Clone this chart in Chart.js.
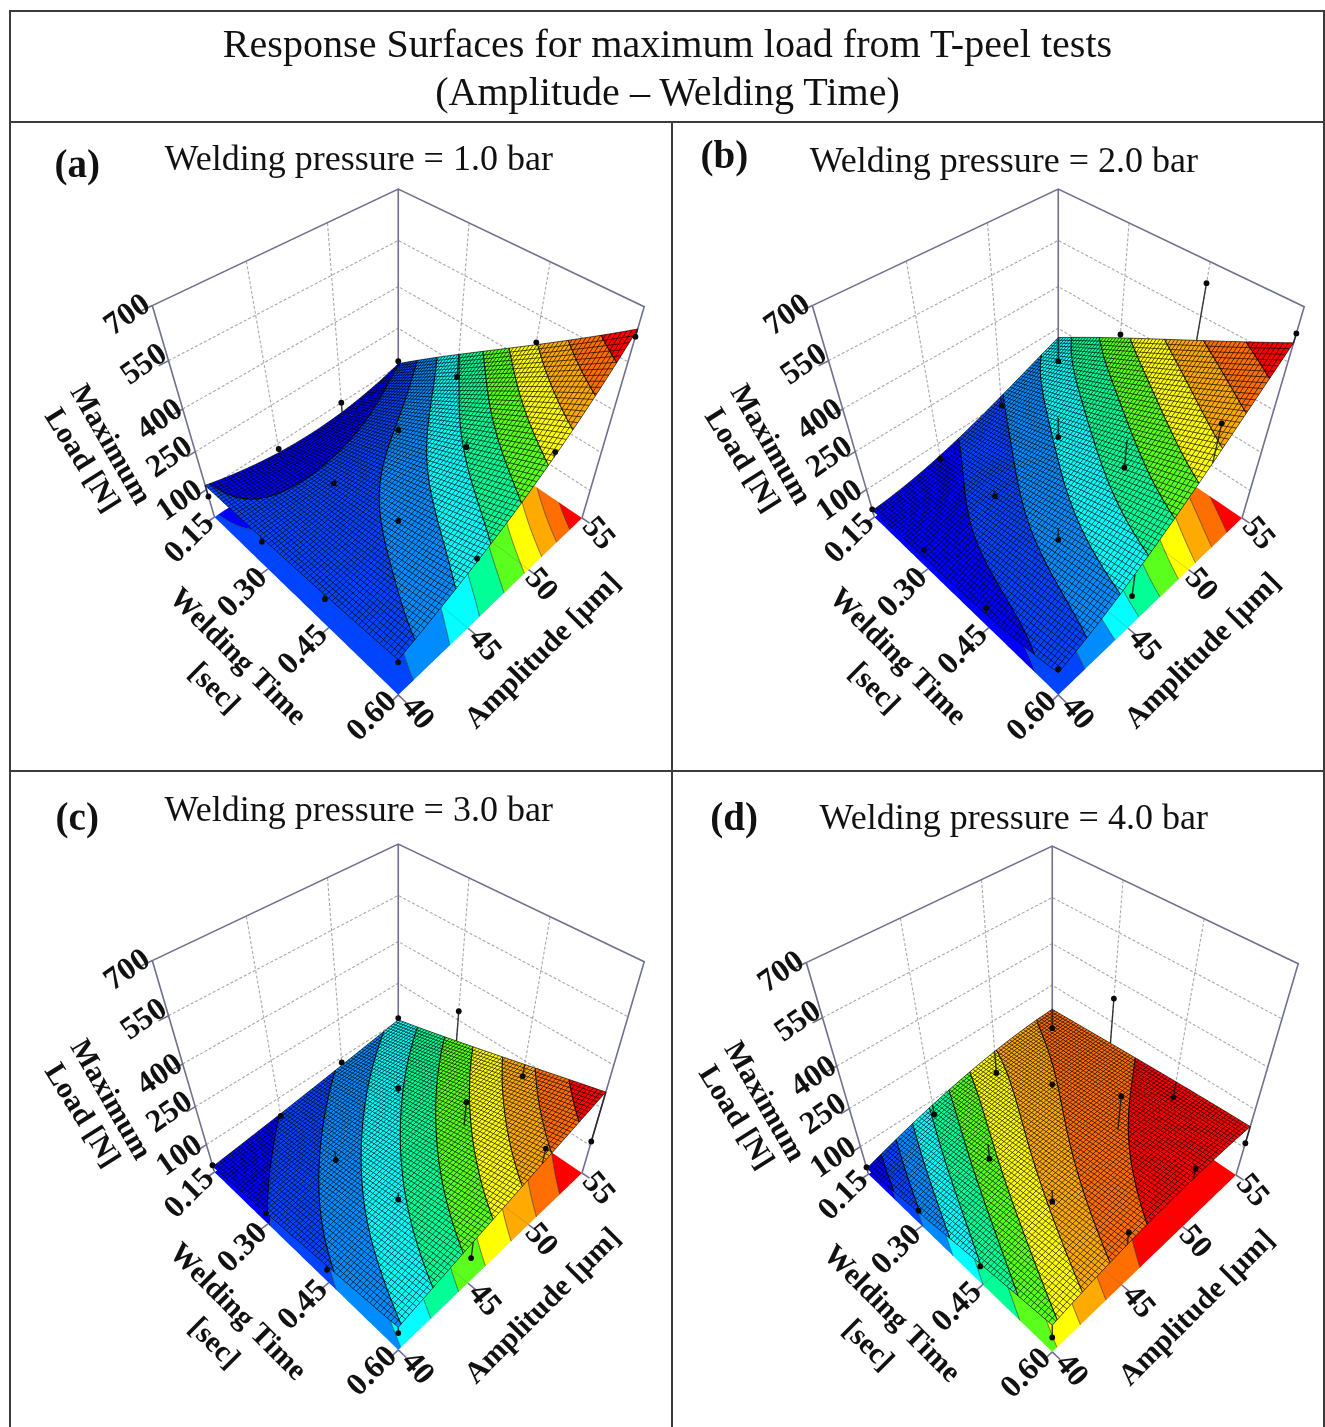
<!DOCTYPE html>
<html><head><meta charset="utf-8">
<script src="https://cdn.jsdelivr.net/npm/chart.js@4"></script>
<style>
html,body{margin:0;padding:0;background:#fff;width:1325px;height:1427px;overflow:hidden}
#page{position:relative;width:1325px;height:1427px;font-family:"Liberation Serif",serif;color:#111;filter:blur(0.45px)}
.rule{position:absolute;background:#3c3c3c}
.head{position:absolute;left:10px;width:1315px;text-align:center;font-size:40.1px;line-height:48px;white-space:nowrap}
canvas{position:absolute}
</style></head><body>
<div id="page">
<div class="rule" style="left:9px;top:10px;width:1316px;height:2px"></div>
<div class="rule" style="left:9px;top:10px;width:2px;height:1417px"></div>
<div class="rule" style="left:1323px;top:10px;width:2px;height:1417px"></div>
<div class="rule" style="left:9px;top:121px;width:1316px;height:2px"></div>
<div class="rule" style="left:671px;top:121px;width:2px;height:1306px"></div>
<div class="rule" style="left:9px;top:770px;width:1316px;height:2px"></div>
<div class="head" style="top:20px">Response Surfaces for maximum load from T-peel tests</div>
<div class="head" style="top:68px">(Amplitude – Welding Time)</div>
<canvas id="pa" width="654" height="647" style="left:11px;top:123px"></canvas>
<canvas id="pb" width="654" height="647" style="left:671px;top:123px"></canvas>
<canvas id="pc" width="654" height="647" style="left:11px;top:778px"></canvas>
<canvas id="pd" width="654" height="647" style="left:665px;top:780px"></canvas>
</div>
<script>
// ---- axis ticks
const timeTicks = [0.15, 0.30, 0.45, 0.60];
const ampTicks = [40, 45, 50, 55];
const loadTicks = [100, 250, 400, 550, 700];
const gridTimes = [0.15, 0.225, 0.30, 0.375, 0.45, 0.525, 0.60];
const gridAmps = [40, 42.5, 45, 47.5, 50, 52.5, 55];
// ---- predicted surfaces: rows = welding time, columns = amplitude
const surfaceA = [
 [118, 85, 62, 55, 62, 82, 110],
 [118,108,103,103,112,135,199],
 [122,125,135,145,178,240,288],
 [127,140,160,190,233,300,375],
 [133,152,185,233,295,370,460],
 [140,175,222,289,360,445,550],
 [150,205,263,335,412,528,640]];
const surfaceB = [
 [10, 25, 48, 84,122,175,211],
 [18, 45, 74,112,157,225,284],
 [25, 62,102,142,200,272,344],
 [33, 79,132,180,250,330,408],
 [43, 97,167,230,285,390,472],
 [58,118,197,270,330,445,539],
 [93,141,221,304,400,503,603]];
const surfaceC = [
 [ 5, 20, 35, 51, 68, 88,104],
 [20, 38, 55, 75, 93,115,136],
 [34, 52, 76,100,122,147,168],
 [48, 68,100,122,150,180,202],
 [62, 92,126,146,175,210,237],
 [76,110,146,176,213,243,271],
 [92,131,165,200,237,272,307]];
const surfaceD = [
 [  6, 45, 83,112,134,148,156],
 [ 24, 64, 99,124,141,155,162],
 [ 41, 80,115,136,150,162,168],
 [ 60, 98,126,146,160,168,172],
 [ 77,118,138,156,171,176,178],
 [ 97,128,151,167,180,182,183],
 [112,140,163,178,186,188,185]];
// ---- contour levels (colour band edges) of each panel
const levelsA = [113.5,172,230.5,289,347.5,406,464.5,523,581.5];
const levelsB = [69,129,188,247,307,366,425,485,544];
const levelsC = [35,65,95,126,156,186,216,247,277];
const levelsD = [24,42,61,79,98,116,135,153,172];
// ---- measured design points: rows = timeTicks, columns = ampTicks
const measuredA = [[71,78,100,120],[101,127,156,204],[112,188,269,469],[139,279,436,621]];
const measuredB = [[15,35,88,120],[67,73,128,360],[73,111,191,643],[107,127,525,630]];
const measuredC = [[11,27,80,112],[28,35,144,282],[41,90,269,192],[65,96,294,117]];
const measuredD = [[11,42,44,78],[50,50,167,335],[66,90,298,116],[53,213,225,118]];
const titles = ["Welding pressure = 1.0 bar","Welding pressure = 2.0 bar","Welding pressure = 3.0 bar","Welding pressure = 4.0 bar"];
const letters = ["(a)","(b)","(c)","(d)"];
const bandColors = ["rgb(0,0,255)","rgb(0,68,255)","rgb(0,140,255)","rgb(0,255,255)","rgb(0,255,150)","rgb(90,255,30)","rgb(255,255,0)","rgb(255,170,0)","rgb(255,110,0)","rgb(255,0,0)"];

// ---- camera (view coordinates are those of panel a)
const Z0=-20, ZR=720;
function project(u,v,z){
  const h=(z-Z0)/ZR;
  const W=1.216-0.216*u+0.216*v-0.3076*h;
  return {x:399+226.2*(u+v-1)/W, y:(629.9+68.1*u-67*v-353.9*h)/W};
}
const uOf=t=>(t-0.15)/0.45, vOf=a=>(a-40)/15;
// smooth the 7x7 table of read values with a low-order least-squares surface for drawing
const basis=[x=>1,x=>x,x=>x*x-4,x=>(x*x*x-7*x)/6], norms=[7,28,84,6];
function makeSurface(T){
  const c=[];
  for(let p=0;p<4;p++){c[p]=[];for(let q=0;q<4;q++){let s=0;
    for(let i=0;i<7;i++)for(let j=0;j<7;j++)s+=T[i][j]*basis[p](i-3)*basis[q](j-3);
    c[p][q]=s/(norms[p]*norms[q]);}}
  return (u,v)=>{const a=6*u-3,b=6*v-3;let s=0;
    for(let p=0;p<4;p++)for(let q=0;q<4;q++)s+=c[p][q]*basis[p](a)*basis[q](b);
    return s;};
}
function bandOf(z,L){let b=0;while(b<L.length&&z>=L[b])b++;return b;}
function clipTri(poly,lo,hi){
  const cut=(P,lim,keepAbove)=>{
    const out=[];
    for(let i=0;i<P.length;i++){
      const a=P[i],b=P[(i+1)%P.length];
      const ia=keepAbove?a.z>=lim:a.z<=lim, ib=keepAbove?b.z>=lim:b.z<=lim;
      if(ia)out.push(a);
      if(ia!==ib){const s=(lim-a.z)/(b.z-a.z);out.push({u:a.u+s*(b.u-a.u),v:a.v+s*(b.v-a.v),z:lim});}
    }
    return out;
  };
  let P=poly;
  if(lo!==null)P=cut(P,lo,true);
  if(P.length&&hi!==null)P=cut(P,hi,false);
  return P;
}
const N=64;
function drawField(ctx,chart,F,L,onFloor){
  const sx=chart.scales.x, sy=chart.scales.y;
  const pt=(u,v,z)=>{const p=project(u,v,onFloor?Z0:z);return [sx.getPixelForValue(p.x),sy.getPixelForValue(p.y)];};
  const paths=bandColors.map(()=>new Path2D());
  const contour=new Path2D();
  const add=(P,b)=>{
    P.forEach((q,i)=>{const c=pt(q.u,q.v,q.z);i?paths[b].lineTo(c[0],c[1]):paths[b].moveTo(c[0],c[1]);});
    paths[b].closePath();
  };
  const V=[];
  for(let i=0;i<=N;i++){V[i]=[];for(let j=0;j<=N;j++){const u=i/N,v=j/N;V[i][j]={u,v,z:F(u,v)};}}
  const tri=(A,B,C)=>{
    const zs=[A.z,B.z,C.z], b0=bandOf(Math.min(...zs),L), b1=bandOf(Math.max(...zs),L);
    for(let b=b0;b<=b1;b++){
      const P=b0===b1?[A,B,C]:clipTri([A,B,C],b>0?L[b-1]:null,b<L.length?L[b]:null);
      if(P.length>=3)add(P,b);
    }
    for(let b=b0;b<b1;b++){
      const l=L[b],E=[];
      [[A,B],[B,C],[C,A]].forEach(([a,c])=>{if((a.z-l)*(c.z-l)<0){const s=(l-a.z)/(c.z-a.z);E.push({u:a.u+s*(c.u-a.u),v:a.v+s*(c.v-a.v)});}});
      if(E.length===2){const p=pt(E[0].u,E[0].v,l),q=pt(E[1].u,E[1].v,l);contour.moveTo(p[0],p[1]);contour.lineTo(q[0],q[1]);}
    }
  };
  for(let i=0;i<N;i++)for(let j=0;j<N;j++){tri(V[i][j],V[i+1][j],V[i+1][j+1]);tri(V[i][j],V[i+1][j+1],V[i][j+1]);}
  paths.forEach((p,b)=>{ctx.fillStyle=bandColors[b];ctx.fill(p);});
  if(!onFloor){
    ctx.strokeStyle="rgba(0,0,0,0.7)";ctx.lineWidth=0.95;ctx.beginPath();
    for(let i=0;i<=N;i++){for(let j=0;j<=N;j++){const c=pt(V[i][j].u,V[i][j].v,V[i][j].z);j?ctx.lineTo(c[0],c[1]):ctx.moveTo(c[0],c[1]);}}
    for(let j=0;j<=N;j++){for(let i=0;i<=N;i++){const c=pt(V[i][j].u,V[i][j].v,V[i][j].z);i?ctx.lineTo(c[0],c[1]):ctx.moveTo(c[0],c[1]);}}
    ctx.stroke();
  }
  ctx.strokeStyle=onFloor?"rgba(20,20,20,0.65)":"rgba(0,0,0,0.85)";ctx.lineWidth=onFloor?0.8:1.1;ctx.stroke(contour);
}
const SERIF='"Liberation Serif",serif';
// rotated labels: [text, x, y, degrees, size]
const axisLabels=[
 ["700",125,314,-35,32],["550",142,364,-35,32],["400",158,420,-35,32],["250",168,458,-35,32],["100",178,502,-35,32],
 ["0.15",188,540,-45,32],["0.30",242,595,-45,32],["0.45",303,653,-45,32],["0.60",373,720,-45,32],
 ["40",418,717,50,32],["45",486,648,50,32],["50",543,587,50,32],["55",601,535,50,32],
 ["Amplitude [µm]",546,654,-45,30],["Welding Time",236,660,45,30],["[sec]",212,692,45,30],
 ["Maximum",107,445,60,30],["Load [N]",78,461,58,30]];
const panelHead=[{tx:359,ty:157,lx:74,ly:163},{tx:344,ty:159,lx:61,ly:154},{tx:359,ty:153,lx:74,ly:161},{tx:360,ty:159,lx:77,ly:159}];

function line3(arr,pts){pts.forEach(p=>{const q=project(p[0],p[1],p[2]);arr.push({x:q.x,y:q.y});});arr.push({x:NaN,y:NaN});}
function makePanel(id,idx,T,L,M){
  const F=makeSurface(T);
  const axes=[],grid=[],stems=[],dots=[];
  const top=loadTicks[loadTicks.length-1];
  line3(axes,[[0,0,Z0],[0,0,top],[0,1,top],[1,1,top],[1,1,Z0]]);
  line3(axes,[[0,1,Z0],[0,1,top]]);
  loadTicks.slice(0,-1).forEach(z=>{line3(grid,[[0,0,z],[0,1,z],[1,1,z]]);});
  timeTicks.slice(1,-1).forEach(t=>{line3(grid,[[uOf(t),1,Z0],[uOf(t),1,top]]);});
  ampTicks.slice(1,-1).forEach(a=>{line3(grid,[[0,vOf(a),Z0],[0,vOf(a),top]]);});
  loadTicks.forEach(z=>line3(axes,[[0,0,z],[0,-0.035,z]]));
  timeTicks.forEach(t=>line3(axes,[[uOf(t),0,Z0],[uOf(t),-0.035,Z0]]));
  ampTicks.forEach(a=>line3(axes,[[1,vOf(a),Z0],[1.035,vOf(a),Z0]]));
  timeTicks.forEach((t,i)=>ampTicks.forEach((a,j)=>{
    const u=uOf(t),v=vOf(a),z=M[i][j];
    line3(stems,[[u,v,z],[u,v,F(u,v)]]);
    const q=project(u,v,z);dots.push({x:q.x,y:q.y});
  }));
  const surfacePlugin={id:"surface"+idx,
    beforeDatasetDraw(chart,args){
      if(args.index!==1)return;
      const ctx=chart.ctx;ctx.save();
      drawField(ctx,chart,F,L,true);
      ctx.strokeStyle="rgba(90,90,90,0.35)";ctx.lineWidth=0.7;ctx.beginPath();
      const px=(u,v)=>{const p=project(u,v,Z0);return [chart.scales.x.getPixelForValue(p.x),chart.scales.y.getPixelForValue(p.y)];};
      timeTicks.slice(1,-1).forEach(t=>{const a=px(uOf(t),0),b=px(uOf(t),1);ctx.moveTo(a[0],a[1]);ctx.lineTo(b[0],b[1]);});
      ampTicks.slice(1,-1).forEach(s=>{const a=px(0,vOf(s)),b=px(1,vOf(s));ctx.moveTo(a[0],a[1]);ctx.lineTo(b[0],b[1]);});
      ctx.stroke();
      drawField(ctx,chart,F,L,false);
      ctx.restore();
    },
    afterDraw(chart){
      const ctx=chart.ctx,sx=chart.scales.x,sy=chart.scales.y;
      ctx.save();ctx.fillStyle="#111";ctx.textAlign="center";ctx.textBaseline="middle";
      axisLabels.forEach(([s,x,y,d,f])=>{
        ctx.save();ctx.translate(sx.getPixelForValue(x),sy.getPixelForValue(y));ctx.rotate(d*Math.PI/180);
        ctx.font="bold "+f+"px "+SERIF;ctx.fillText(s,0,0);ctx.restore();
      });
      const H=panelHead[idx];
      ctx.font="36px "+SERIF;ctx.fillText(titles[idx],sx.getPixelForValue(H.tx),sy.getPixelForValue(H.ty));
      ctx.font="bold 39px "+SERIF;ctx.fillText(letters[idx],sx.getPixelForValue(H.lx),sy.getPixelForValue(H.ly));
      ctx.restore();
    }};
  new Chart(document.getElementById(id),{
    type:"scatter",
    data:{datasets:[
      {data:dots,order:1,pointRadius:2.9,pointBackgroundColor:"#0a0a0a",pointBorderWidth:0,showLine:false,clip:false},
      {data:stems,order:2,showLine:true,pointRadius:0,borderColor:"rgba(25,25,25,0.85)",borderWidth:1.4,spanGaps:false,clip:false},
      {data:axes,order:3,showLine:true,pointRadius:0,borderColor:"#70708f",borderWidth:1.6,spanGaps:false,clip:false},
      {data:grid,order:4,showLine:true,pointRadius:0,borderColor:"#a8a8ae",borderWidth:1.1,borderDash:[3,2],spanGaps:false,clip:false}
    ]},
    options:{responsive:false,animation:false,devicePixelRatio:1,
      layout:{padding:0},
      plugins:{legend:{display:false},tooltip:{enabled:false},title:{display:false}},
      scales:{x:{type:"linear",display:false,min:11,max:665},y:{type:"linear",display:false,reverse:true,min:123,max:770}}},
    plugins:[surfacePlugin]});
}
makePanel("pa",0,surfaceA,levelsA,measuredA);
makePanel("pb",1,surfaceB,levelsB,measuredB);
makePanel("pc",2,surfaceC,levelsC,measuredC);
makePanel("pd",3,surfaceD,levelsD,measuredD);
</script>
</body></html>
